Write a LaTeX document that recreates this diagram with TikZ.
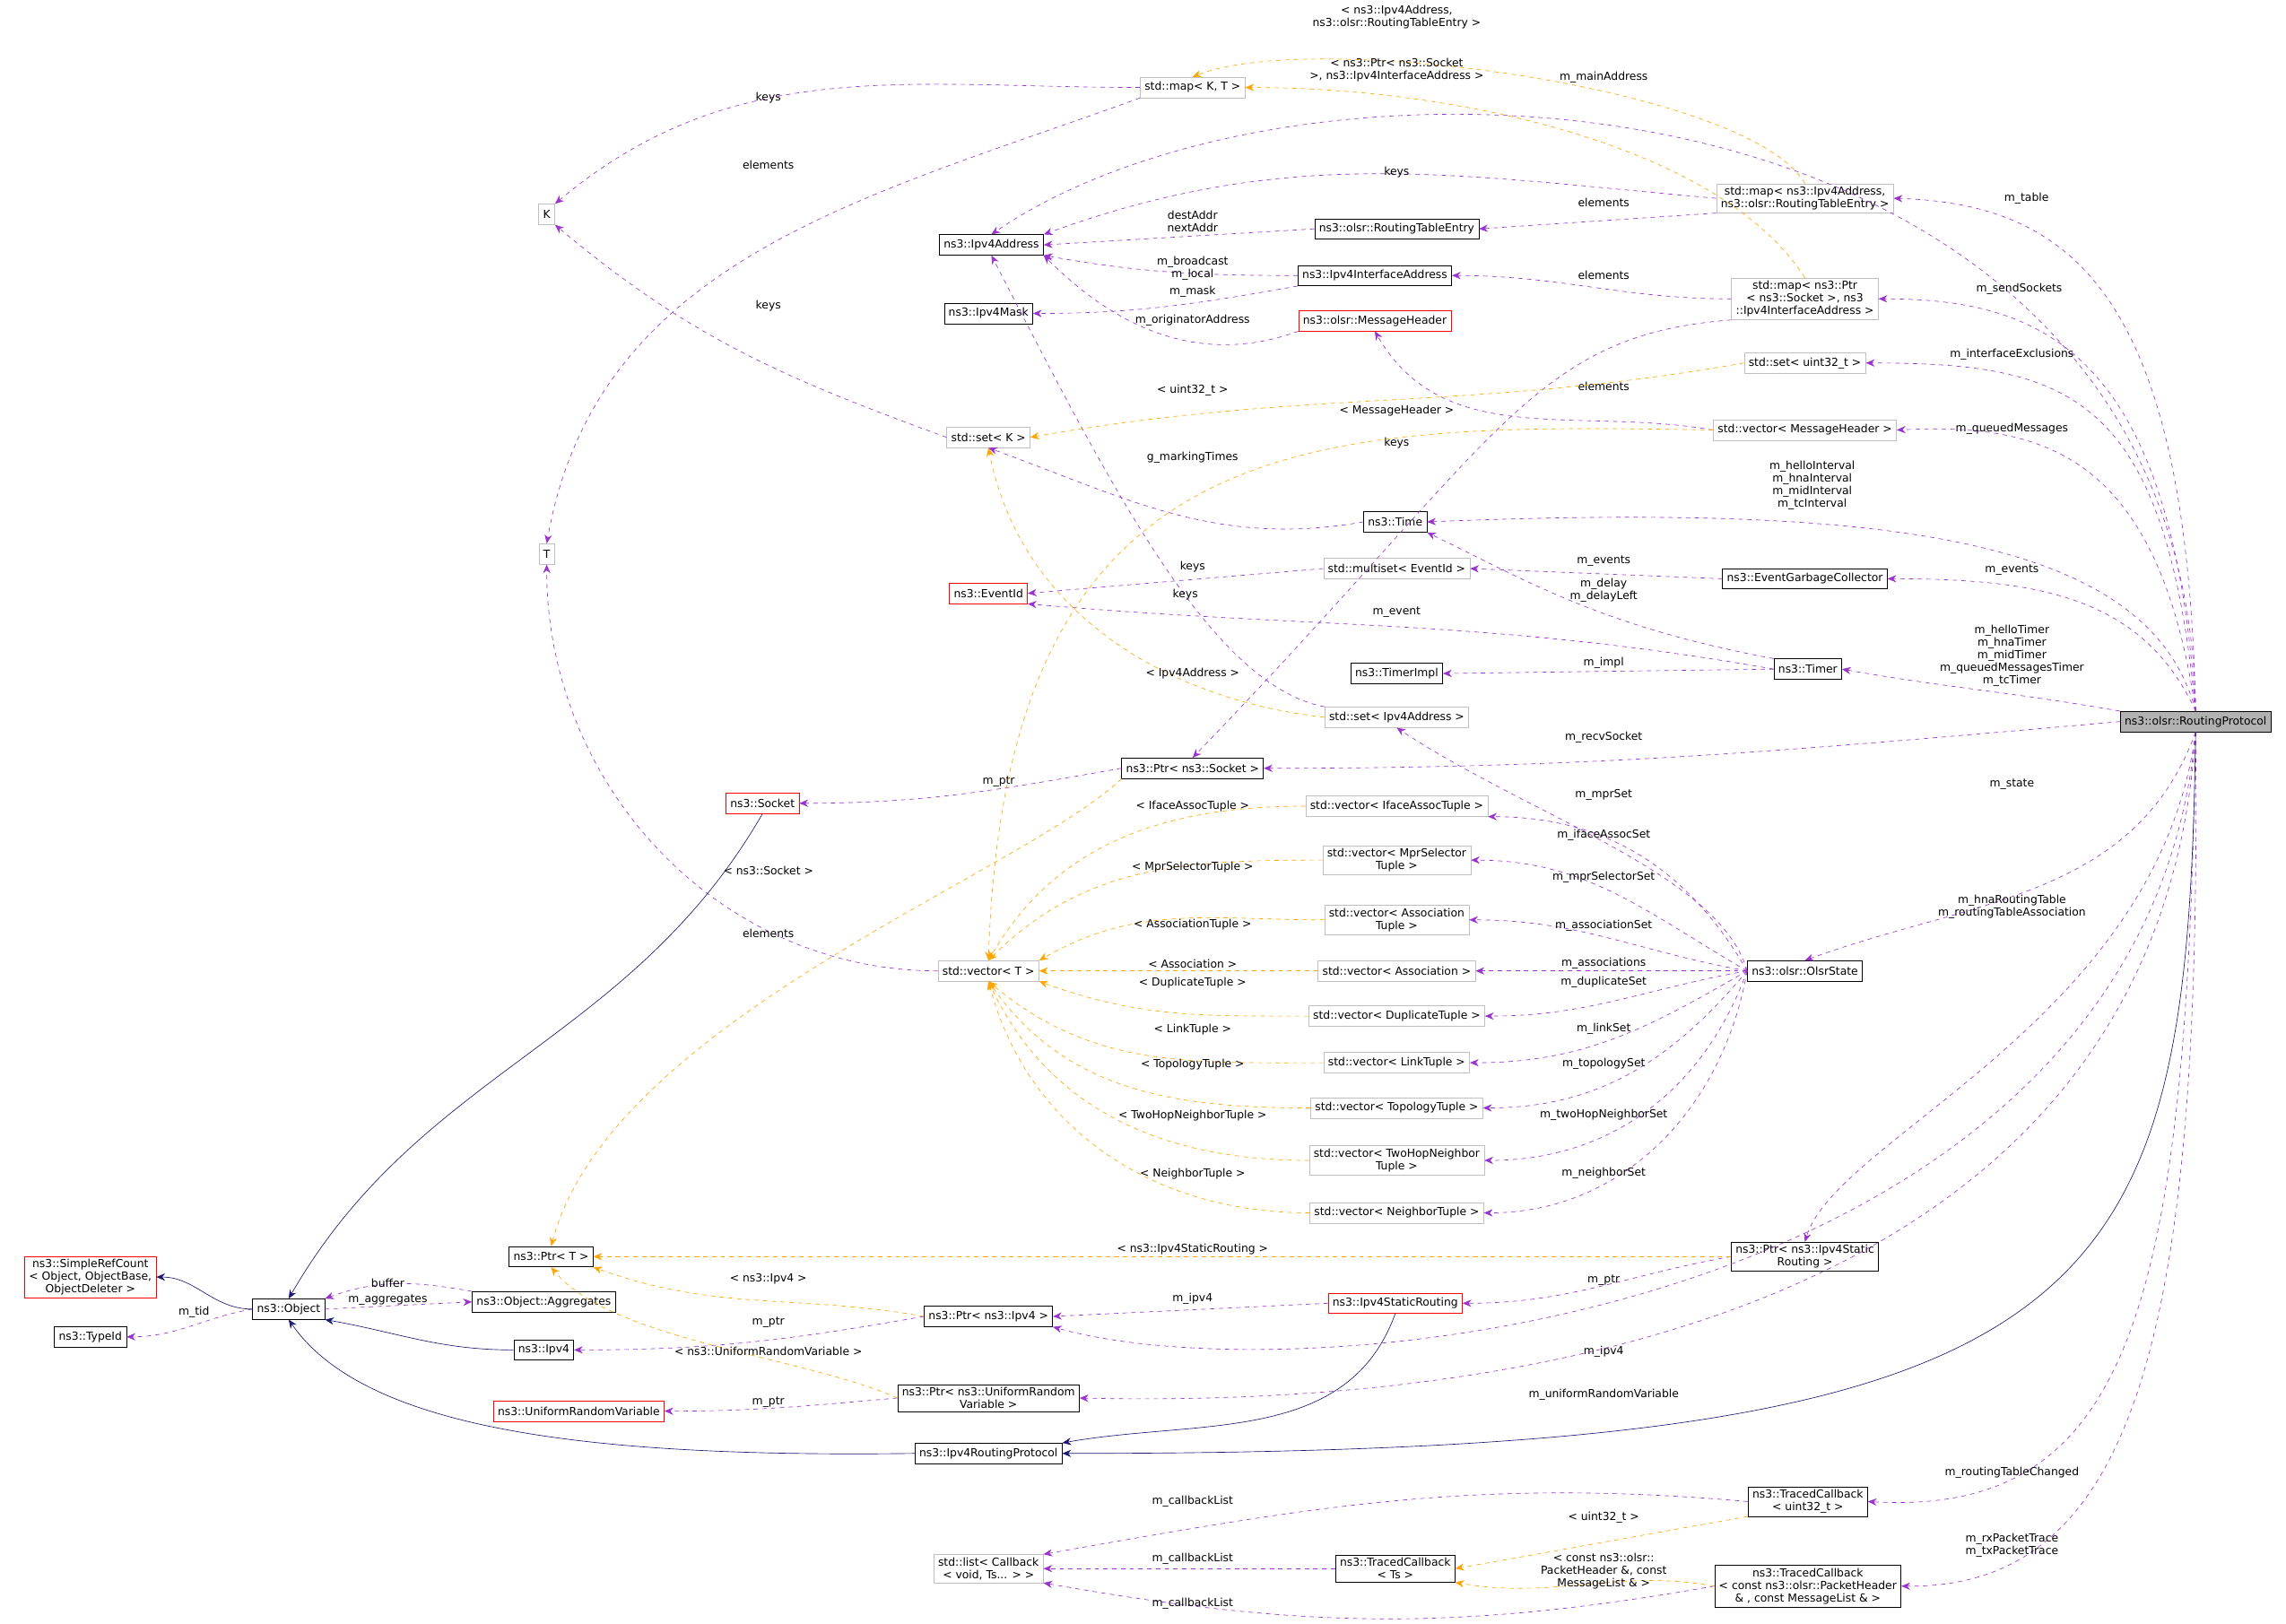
\documentclass[tikz,border=0pt]{standalone}
\usepackage{fontspec}
\setmainfont{DejaVu Sans}
\usetikzlibrary{arrows.meta}
\definecolor{pur}{HTML}{9A32CD}
\definecolor{org}{HTML}{FFA500}
\definecolor{nav}{HTML}{191970}
\tikzset{
 bx/.style={draw=black,fill=white,inner xsep=3pt,inner ysep=2pt,minimum height=14pt,align=center,font=\fontsize{7.6}{8.6}\selectfont},
 gbx/.style={bx,draw=gray!50},
 rbx/.style={bx,draw=red},
 mem/.style={draw=pur,dashed,-{Stealth[length=6pt,width=5pt]}},
 tpl/.style={draw=org,dashed,-{Stealth[length=6pt,width=5pt]}},
 inh/.style={draw=nav,-{Stealth[length=6pt,width=5pt]}},
 lb/.style={font=\fontsize{7.6}{8.6}\selectfont,align=center,inner sep=0pt}
}
\begin{document}
\begin{tikzpicture}[x=1pt,y=-1pt]
\useasboundingbox (0,0) rectangle (1568,1114);
% nodes
\node[gbx] (mapKT) at (818,60) {std::map< K, T >};
\node[gbx] (K) at (375,147) {K};
\node[gbx] (T) at (375,380) {T};
\node[bx] (ip) at (680,168) {ns3::Ipv4Address};
\node[bx] (mask) at (678,215) {ns3::Ipv4Mask};
\node[bx] (rte) at (958,157) {ns3::olsr::RoutingTableEntry};
\node[bx] (iface) at (943,189) {ns3::Ipv4InterfaceAddress};
\node[rbx] (mh) at (943,220) {ns3::olsr::MessageHeader};
\node[gbx] (maprte) at (1238,136) {std::map< ns3::Ipv4Address,\\ ns3::olsr::RoutingTableEntry >};
\node[gbx] (mapsock) at (1238,205) {std::map< ns3::Ptr\\< ns3::Socket >, ns3\\::Ipv4InterfaceAddress >};
\node[gbx] (setu) at (1238,249) {std::set< uint32\_t >};
\node[gbx] (vmh) at (1238,295) {std::vector< MessageHeader >};
\node[gbx] (setK) at (678,300) {std::set< K >};
\node[bx] (time) at (957,358) {ns3::Time};
\node[gbx] (mset) at (958,390) {std::multiset< EventId >};
\node[bx] (egc) at (1238,397) {ns3::EventGarbageCollector};
\node[rbx] (eid) at (678,407) {ns3::EventId};
\node[bx] (timpl) at (958,462) {ns3::TimerImpl};
\node[bx] (timer) at (1240,459) {ns3::Timer};
\node[gbx] (setip) at (958,492) {std::set< Ipv4Address >};
\node[bx,fill=gray!60] (rp) at (1506,495) {ns3::olsr::RoutingProtocol};
\node[bx] (psock) at (818,527) {ns3::Ptr< ns3::Socket >};
\node[rbx] (sock) at (523,551) {ns3::Socket};
\node[gbx] (viat) at (958,553) {std::vector< IfaceAssocTuple >};
\node[gbx] (vmst) at (958,590) {std::vector< MprSelector\\ Tuple >};
\node[gbx] (vat) at (958,631) {std::vector< Association\\ Tuple >};
\node[gbx] (vT) at (678,666) {std::vector< T >};
\node[gbx] (va) at (958,666) {std::vector< Association >};
\node[bx] (os) at (1238,666) {ns3::olsr::OlsrState};
\node[gbx] (vd) at (958,697) {std::vector< DuplicateTuple >};
\node[gbx] (vl) at (958,729) {std::vector< LinkTuple >};
\node[gbx] (vtp) at (958,760) {std::vector< TopologyTuple >};
\node[gbx] (v2h) at (958,796) {std::vector< TwoHopNeighbor\\ Tuple >};
\node[gbx] (vn) at (958,832) {std::vector< NeighborTuple >};
\node[rbx] (src) at (62,876) {ns3::SimpleRefCount\\< Object, ObjectBase,\\ ObjectDeleter >};
\node[bx] (pT) at (378,862) {ns3::Ptr< T >};
\node[bx] (pisr) at (1238,862) {ns3::Ptr< ns3::Ipv4Static\\ Routing >};
\node[bx] (obj) at (198,898) {ns3::Object};
\node[bx] (agg) at (373,893) {ns3::Object::Aggregates};
\node[bx] (tid) at (62,917) {ns3::TypeId};
\node[bx] (ipv4) at (373,926) {ns3::Ipv4};
\node[bx] (pipv4) at (678,903) {ns3::Ptr< ns3::Ipv4 >};
\node[rbx] (isr) at (957,894) {ns3::Ipv4StaticRouting};
\node[rbx] (urv) at (397,968) {ns3::UniformRandomVariable};
\node[bx] (purv) at (678,959) {ns3::Ptr< ns3::UniformRandom\\ Variable >};
\node[bx] (irp) at (678,997) {ns3::Ipv4RoutingProtocol};
\node[bx] (tcu) at (1240,1030) {ns3::TracedCallback\\< uint32\_t >};
\node[gbx] (lcb) at (678,1076) {std::list< Callback\\< void, Ts... > >};
\node[bx] (tcts) at (957,1076) {ns3::TracedCallback\\< Ts >};
\node[bx] (tcp) at (1240,1088) {ns3::TracedCallback\\< const ns3::olsr::PacketHeader\\\& , const MessageList \& >};
% member edges
\draw[mem] (mapKT.west) to[out=180,in=40] (K.north east); \node[lb] at (527,67) {keys};
\draw[mem] (mapKT.south west) to[out=200,in=80] (T.north); \node[lb] at (527,113) {elements};
\draw[mem] (setK.west) to[out=160,in=-40] (K.south east); \node[lb] at (527,210) {keys};
\draw[mem] (vT.west) to[out=180,in=-90] (T.south); \node[lb] at (527,640) {elements};
\draw[mem] (maprte.west) to[out=175,in=20] (ip.north east); \node[lb] at (958,118) {keys};
\draw[mem] (maprte.south west) -- (rte.east); \node[lb] at (1100,139) {elements};
\draw[mem] (rte.west) -- (ip.east); \node[lb] at (818,152) {destAddr\\nextAddr};
\draw[mem] (iface.west) to[out=180,in=-10] (ip.south east); \node[lb] at (818,184) {m\_broadcast\\m\_local};
\draw[mem] (iface.south west) to[out=190,in=0] (mask.east); \node[lb] at (818,200) {m\_mask};
\draw[mem] (mh.south west) to[out=200,in=-45] (ip.south east); \node[lb] at (818,220) {m\_originatorAddress};
\draw[mem] (mapsock.west) to[out=180,in=0] (iface.east); \node[lb] at (1100,189) {elements};
\draw[mem] (mapsock.south west) .. controls (1050,230) and (1030,300) .. (psock.north); \node[lb] at (958,304) {keys};
\draw[mem] (vmh.west) to[out=170,in=-60] (mh.south); \node[lb] at (1100,265) {elements};
\draw[mem] (time.west) to[out=190,in=-20] (setK.south); \node[lb] at (818,314) {g\_markingTimes};
\draw[mem] (mset.west) -- (eid.east); \node[lb] at (818,389) {keys};
\draw[mem] (egc.west) -- (mset.east); \node[lb] at (1100,385) {m\_events};
\draw[mem] (timer.north west) .. controls (1100,430) and (1050,400) .. (time.south east); \node[lb] at (1100,405) {m\_delay\\m\_delayLeft};
\draw[mem] (timer.west) to[out=170,in=-5] (eid.south east); \node[lb] at (958,420) {m\_event};
\draw[mem] (timer.west) -- (timpl.east); \node[lb] at (1100,455) {m\_impl};
\draw[mem] (setip.north west) .. controls (830,470) and (760,330) .. (ip.south); \node[lb] at (813,408) {keys};
\draw[mem] (psock.west) to[out=190,in=0] (sock.east); \node[lb] at (685,536) {m\_ptr};
\draw[mem] (rp.north) .. controls (1500,40) and (900,10) .. (ip.north); \node[lb] at (1100,53) {m\_mainAddress};
\draw[mem] (rp.north) .. controls (1500,200) and (1420,140) .. (maprte.east); \node[lb] at (1390,136) {m\_table};
\draw[mem] (rp.north) .. controls (1490,240) and (1400,205) .. (mapsock.east); \node[lb] at (1385,198) {m\_sendSockets};
\draw[mem] (rp.north) .. controls (1485,270) and (1420,249) .. (setu.east); \node[lb] at (1380,243) {m\_interfaceExclusions};
\draw[mem] (rp.north) .. controls (1480,310) and (1400,290) .. (vmh.east); \node[lb] at (1380,294) {m\_queuedMessages};
\draw[mem] (rp.north) .. controls (1475,370) and (1300,345) .. (time.east); \node[lb] at (1243,333) {m\_helloInterval\\m\_hnaInterval\\m\_midInterval\\m\_tcInterval};
\draw[mem] (rp.north) .. controls (1470,410) and (1400,397) .. (egc.east); \node[lb] at (1380,391) {m\_events};
\draw[mem] (rp.north west) to[out=170,in=-10] (timer.east); \node[lb] at (1380,450) {m\_helloTimer\\m\_hnaTimer\\m\_midTimer\\m\_queuedMessagesTimer\\m\_tcTimer};
\draw[mem] (rp.west) to[out=185,in=0] (psock.east); \node[lb] at (1100,506) {m\_recvSocket};
\draw[mem] (rp.south) to[out=-110,in=20] (os.north); \node[lb] at (1380,538) {m\_state};
\draw[mem] (rp.south) .. controls (1480,700) and (1260,780) .. (pisr.north); \node[lb] at (1380,622) {m\_hnaRoutingTable\\m\_routingTableAssociation};
\draw[mem] (rp.south) .. controls (1470,900) and (900,960) .. (pipv4.south east); \node[lb] at (1100,927) {m\_ipv4};
\draw[mem] (rp.south) .. controls (1480,920) and (1000,965) .. (purv.east); \node[lb] at (1100,957) {m\_uniformRandomVariable};
\draw[mem] (rp.south) .. controls (1500,900) and (1460,1040) .. (tcu.east); \node[lb] at (1380,1010) {m\_routingTableChanged};
\draw[mem] (rp.south) .. controls (1510,900) and (1470,1090) .. (tcp.east); \node[lb] at (1380,1060) {m\_rxPacketTrace\\m\_txPacketTrace};
\draw[mem] (os.west) .. controls (1180,600) and (1050,560) .. (setip.south); \node[lb] at (1100,545) {m\_mprSet};
\draw[mem] (os.west) to[out=120,in=0] (viat.south east); \node[lb] at (1100,573) {m\_ifaceAssocSet};
\draw[mem] (os.west) to[out=150,in=0] (vmst.east); \node[lb] at (1100,602) {m\_mprSelectorSet};
\draw[mem] (os.west) to[out=170,in=0] (vat.east); \node[lb] at (1100,635) {m\_associationSet};
\draw[mem] (os.west) -- (va.east); \node[lb] at (1100,661) {m\_associations};
\draw[mem] (os.west) to[out=190,in=0] (vd.east); \node[lb] at (1100,674) {m\_duplicateSet};
\draw[mem] (os.west) to[out=210,in=0] (vl.east); \node[lb] at (1100,706) {m\_linkSet};
\draw[mem] (os.west) to[out=230,in=0] (vtp.east); \node[lb] at (1100,730) {m\_topologySet};
\draw[mem] (os.west) to[out=250,in=0] (v2h.east); \node[lb] at (1100,765) {m\_twoHopNeighborSet};
\draw[mem] (os.west) to[out=260,in=0] (vn.east); \node[lb] at (1100,805) {m\_neighborSet};
\draw[mem] (pisr.west) to[out=190,in=0] (isr.east); \node[lb] at (1100,878) {m\_ptr};
\draw[mem] (isr.west) -- (pipv4.east); \node[lb] at (818,891) {m\_ipv4};
\draw[mem] (pipv4.west) to[out=190,in=0] (ipv4.east); \node[lb] at (527,907) {m\_ptr};
\draw[mem] (purv.west) to[out=185,in=0] (urv.east); \node[lb] at (527,962) {m\_ptr};
\draw[mem] (obj.west) to[out=190,in=0] (tid.east); \node[lb] at (133,900) {m\_tid};
\draw[mem] (obj.east) -- (agg.west); \node[lb] at (266,892) {m\_aggregates};
\draw[mem] (agg.north west) to[out=170,in=20] (obj.north east); \node[lb] at (266,880) {buffer};
\draw[mem] (tcu.west) to[out=175,in=10] (lcb.north east); \node[lb] at (818,1030) {m\_callbackList};
\draw[mem] (tcts.west) -- (lcb.east); \node[lb] at (818,1069) {m\_callbackList};
\draw[mem] (tcp.west) to[out=190,in=-10] (lcb.south east); \node[lb] at (818,1100) {m\_callbackList};
% template edges
\draw[tpl] (maprte.north) .. controls (1200,60) and (900,20) .. (mapKT.north); \node[lb] at (958,12) {< ns3::Ipv4Address,\\ns3::olsr::RoutingTableEntry >};
\draw[tpl] (mapsock.north) .. controls (1180,100) and (1000,60) .. (mapKT.east); \node[lb] at (958,48) {< ns3::Ptr< ns3::Socket\\ >, ns3::Ipv4InterfaceAddress >};
\draw[tpl] (setu.west) to[out=190,in=10] (setK.east); \node[lb] at (818,268) {< uint32\_t >};
\draw[tpl] (setip.west) .. controls (800,480) and (700,420) .. (setK.south); \node[lb] at (818,462) {< Ipv4Address >};
\draw[tpl] (vmh.west) .. controls (900,290) and (690,290) .. (vT.north); \node[lb] at (958,282) {< MessageHeader >};
\draw[tpl] (viat.west) to[out=180,in=60] (vT.north); \node[lb] at (818,553) {< IfaceAssocTuple >};
\draw[tpl] (vmst.west) to[out=180,in=45] (vT.north); \node[lb] at (818,595) {< MprSelectorTuple >};
\draw[tpl] (vat.west) to[out=180,in=30] (vT.north east); \node[lb] at (818,634) {< AssociationTuple >};
\draw[tpl] (va.west) -- (vT.east); \node[lb] at (818,661) {< Association >};
\draw[tpl] (vd.west) to[out=180,in=-20] (vT.south east); \node[lb] at (818,674) {< DuplicateTuple >};
\draw[tpl] (vl.west) to[out=180,in=-40] (vT.south); \node[lb] at (818,706) {< LinkTuple >};
\draw[tpl] (vtp.west) to[out=180,in=-55] (vT.south); \node[lb] at (818,730) {< TopologyTuple >};
\draw[tpl] (v2h.west) to[out=180,in=-65] (vT.south); \node[lb] at (818,765) {< TwoHopNeighborTuple >};
\draw[tpl] (vn.west) to[out=180,in=-75] (vT.south); \node[lb] at (818,805) {< NeighborTuple >};
\draw[tpl] (psock.south west) .. controls (700,600) and (420,700) .. (pT.north); \node[lb] at (527,597) {< ns3::Socket >};
\draw[tpl] (pipv4.west) to[out=170,in=-20] (pT.south east); \node[lb] at (527,877) {< ns3::Ipv4 >};
\draw[tpl] (purv.west) .. controls (550,930) and (420,920) .. (pT.south); \node[lb] at (527,927) {< ns3::UniformRandomVariable >};
\draw[tpl] (pisr.west) to[out=180,in=0] (pT.east); \node[lb] at (818,857) {< ns3::Ipv4StaticRouting >};
\draw[tpl] (tcu.south west) to[out=190,in=10] (tcts.east); \node[lb] at (1100,1041) {< uint32\_t >};
\draw[tpl] (tcp.west) to[out=170,in=-10] (tcts.south east); \node[lb] at (1100,1078) {< const ns3::olsr::\\PacketHeader \&, const\\MessageList \& >};
% inheritance
\draw[inh] (obj.west) to[out=180,in=0] (src.east);
\draw[inh] (sock.south) to[out=-120,in=60] (obj.north);
\draw[inh] (ipv4.west) to[out=180,in=-10] (obj.south east);
\draw[inh] (irp.west) .. controls (400,1000) and (250,980) .. (obj.south);
\draw[inh] (isr.south) to[out=-110,in=10] (irp.north east);
\draw[inh] (rp.south) .. controls (1500,900) and (1450,997) .. (irp.east);
\end{tikzpicture}
\end{document}
